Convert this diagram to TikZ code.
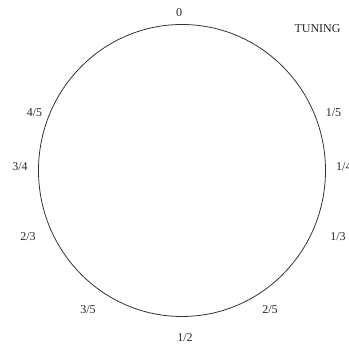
\documentclass[tikz,border=0pt]{standalone}
\usepackage{fontspec}
\usetikzlibrary{shapes.geometric}
\setmainfont{Liberation Serif}
\begin{document}
\begin{tikzpicture}[x=1pt,y=1pt,
  lbl/.style={font=\fontsize{12}{14}\selectfont, inner sep=0pt, text=black!85},
  ring/.style={draw=black!80, line width=0.8pt}]
\useasboundingbox (0,0) rectangle (349,345);
\node[ring, ellipse, minimum width=287pt, minimum height=292pt, inner sep=0pt] (c) at (182,174.5) {};
\node[lbl] (l0) at (179,332.5) {0};
\node[lbl] (tun) at (317.5,316) {TUNING};
\node[lbl] (l15) at (333.5,232) {1/5};
\node[lbl, anchor=west] (l14) at (336,178) {1/4};
\node[lbl] (l13) at (338,108) {1/3};
\node[lbl] (l25) at (270,35) {2/5};
\node[lbl] (l12) at (185,7.5) {1/2};
\node[lbl] (l35) at (88,35) {3/5};
\node[lbl] (l23) at (28,108) {2/3};
\node[lbl] (l34) at (20,178) {3/4};
\node[lbl] (l45) at (34.5,232) {4/5};
\end{tikzpicture}
\end{document}
